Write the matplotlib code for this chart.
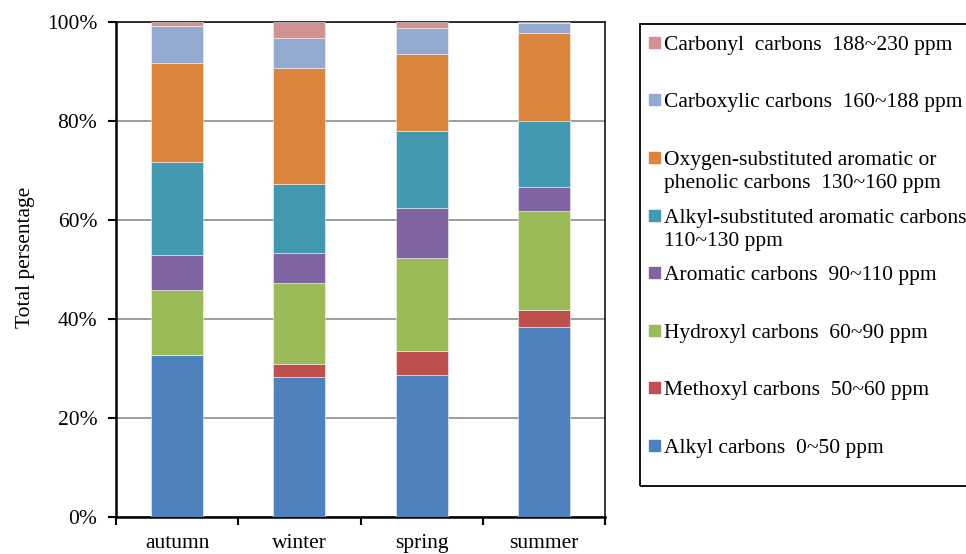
import matplotlib.pyplot as plt
from matplotlib.patches import Rectangle
from matplotlib.ticker import FixedLocator, FuncFormatter
import numpy as np

plt.rcParams['font.family'] = ['Liberation Serif', 'DejaVu Serif']
plt.rcParams['font.size'] = 15.5

seasons = ["autumn", "winter", "spring", "summer"]

# bottom to top of the stack
labels = [
    "Alkyl carbons  0~50 ppm",
    "Methoxyl carbons  50~60 ppm",
    "Hydroxyl carbons  60~90 ppm",
    "Aromatic carbons  90~110 ppm",
    "Alkyl-substituted aromatic carbons\n110~130 ppm",
    "Oxygen-substituted aromatic or\nphenolic carbons  130~160 ppm",
    "Carboxylic carbons  160~188 ppm",
    "Carbonyl  carbons  188~230 ppm",
]
colors = ["#4F81BD", "#C0504D", "#9BBB59", "#8064A2",
          "#4198AF", "#DB843D", "#93A9CF", "#D19392"]

alkyl = [32.7, 28.3, 28.7, 38.4]
methoxyl = [0.0, 2.7, 4.8, 3.5]
hydroxyl = [13.3, 16.3, 18.9, 19.9]
aromatic = [6.9, 6.1, 10.0, 4.9]
alkyl_sub = [18.8, 13.9, 15.5, 13.3]
oxygen_sub = [20.0, 23.4, 15.6, 17.8]
carboxylic = [7.5, 6.1, 5.2, 1.9]
carbonyl = [0.8, 3.2, 1.3, 0.3]

series = [alkyl, methoxyl, hydroxyl, aromatic, alkyl_sub, oxygen_sub, carboxylic, carbonyl]

fig = plt.figure(figsize=(9.66, 5.54), dpi=100)
ax = fig.add_axes([0.1201, 0.0659, 0.5062, 0.8944])

x = np.arange(len(seasons))
bottom = np.zeros(len(seasons))
for vals, col in zip(series, colors):
    vals = np.array(vals)
    ax.bar(x, vals, 0.425, bottom=bottom, color=col,
           edgecolor=(1, 1, 1, 0.55), linewidth=0.6, zorder=3)
    bottom += vals

ax.set_xlim(-0.5, 3.5)
ax.set_ylim(0, 100)
ax.set_yticks(np.arange(0, 101, 20))
ax.yaxis.set_major_formatter(FuncFormatter(lambda v, p: "%d%%" % v))
ax.grid(axis="y", color="#8c8c8c", linewidth=1.2, zorder=0)

ax.set_xticks(x)
ax.set_xticklabels(seasons)
ax.xaxis.set_minor_locator(FixedLocator(np.arange(-0.5, 3.6, 1)))
ax.tick_params(axis="x", which="major", length=0, pad=12)
ax.tick_params(axis="x", which="minor", length=6, width=1.5, direction="out")
ax.tick_params(axis="y", length=6, width=1.5, pad=7.5, direction="out")

for side in ["left", "bottom"]:
    ax.spines[side].set_linewidth(1.8)
for side in ["top", "right"]:
    ax.spines[side].set_linewidth(1.1)

ax.set_ylabel("Total persentage")
ax.yaxis.set_label_coords(-0.165, 0.525)

# legend box, drawn by hand so handles sit at the first line of each label
W, H = 966.0, 554.0
fig.patches.append(Rectangle((640 / W, 1 - 486 / H), 0.4, (486 - 24) / H,
                             transform=fig.transFigure, fill=False,
                             edgecolor="black", linewidth=1.3))
baselines = [50, 107, 165, 223, 280, 338, 395, 453]
for lab, col, yb in zip(labels[::-1], colors[::-1], baselines):
    fig.patches.append(Rectangle((649 / W, 1 - (yb - 2) / H), 11 / W, 11 / H,
                                 transform=fig.transFigure, color=col))
    for i, line in enumerate(lab.split("\n")):
        fig.text(664 / W, 1 - (yb + 23.3 * i) / H, line,
                 ha="left", va="baseline")

fig.savefig("out.png", dpi=100)
